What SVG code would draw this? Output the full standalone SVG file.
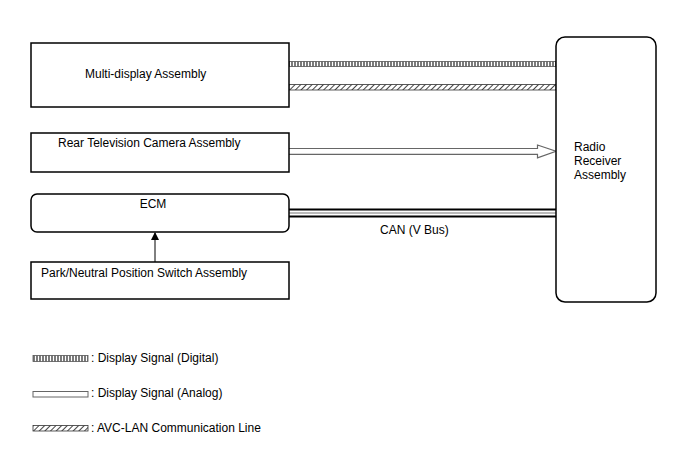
<svg xmlns="http://www.w3.org/2000/svg" width="688" height="463" viewBox="0 0 688 463">
<style>
  .box{fill:#fff;stroke:#000;stroke-width:1.5}
  .t{font-family:"Liberation Sans",Arial,sans-serif;font-size:12px;fill:#000}
</style>
<defs>
  <pattern id="dig" patternUnits="userSpaceOnUse" width="3" height="6">
    <rect width="3" height="6" fill="#fff"/>
    <line x1="1" y1="0" x2="1" y2="6" stroke="#333" stroke-width="1.3"/>
  </pattern>
  <pattern id="avc" patternUnits="userSpaceOnUse" width="4" height="4" patternTransform="rotate(45)">
    <rect width="4" height="4" fill="#fff"/>
    <line x1="0" y1="0" x2="0" y2="4" stroke="#222" stroke-width="1.7"/>
  </pattern>
  <marker id="ah" markerWidth="8" markerHeight="8" refX="7" refY="4" orient="auto" markerUnits="userSpaceOnUse">
    <path d="M0,0 L8,4 L0,8 Z" fill="#000"/>
  </marker>
</defs>

<g id="connectors">
  <rect x="289" y="61.5" width="267" height="5" fill="url(#dig)" stroke="#555" stroke-width="0.8"/>
  <rect x="289" y="84.5" width="267" height="5.5" fill="url(#avc)" stroke="#333" stroke-width="0.8"/>
  <path d="M289,148.5 L537.5,148.5 L537.5,145 L556,151.3 L537.5,157.8 L537.5,154.3 L289,154.3" fill="#fff" stroke="#666" stroke-width="1.2"/>
  <line x1="289" y1="209.5" x2="556" y2="209.5" stroke="#000" stroke-width="2"/>
  <line x1="289" y1="213" x2="556" y2="213" stroke="#777" stroke-width="1"/>
  <line x1="289" y1="216.5" x2="556" y2="216.5" stroke="#000" stroke-width="2"/>
  <text class="t" x="380" y="234">CAN (V Bus)</text>
  <line x1="155" y1="262" x2="155" y2="233" stroke="#000" stroke-width="1" marker-end="url(#ah)"/>
</g>

<g id="multi-display">
  <rect class="box" x="31" y="43" width="258" height="64"/>
  <text class="t" x="85" y="78">Multi-display Assembly</text>
</g>
<g id="rear-camera">
  <rect class="box" x="31" y="133" width="258" height="39"/>
  <text class="t" x="58" y="147">Rear Television Camera Assembly</text>
</g>
<g id="ecm">
  <rect class="box" x="31" y="194" width="258" height="38" rx="6"/>
  <text class="t" x="153" y="208" text-anchor="middle">ECM</text>
</g>
<g id="park-neutral">
  <rect class="box" x="31" y="262" width="258" height="37"/>
  <text class="t" x="41" y="277">Park/Neutral Position Switch Assembly</text>
</g>
<g id="radio-receiver">
  <rect class="box" x="556" y="37" width="100" height="265" rx="9"/>
  <text class="t" x="574" y="151">Radio</text>
  <text class="t" x="574" y="165">Receiver</text>
  <text class="t" x="574" y="179">Assembly</text>
</g>

<g id="legend">
  <rect x="33" y="355.5" width="55" height="6" fill="url(#dig)" stroke="#555" stroke-width="0.8"/>
  <text class="t" x="91" y="362">: Display Signal (Digital)</text>
  <rect x="33" y="391.5" width="55" height="5.5" fill="#fff" stroke="#666" stroke-width="1"/>
  <text class="t" x="91" y="397">: Display Signal (Analog)</text>
  <rect x="33" y="425.5" width="55" height="5.5" fill="url(#avc)" stroke="#333" stroke-width="0.8"/>
  <text class="t" x="91" y="432">: AVC-LAN Communication Line</text>
</g>
</svg>
